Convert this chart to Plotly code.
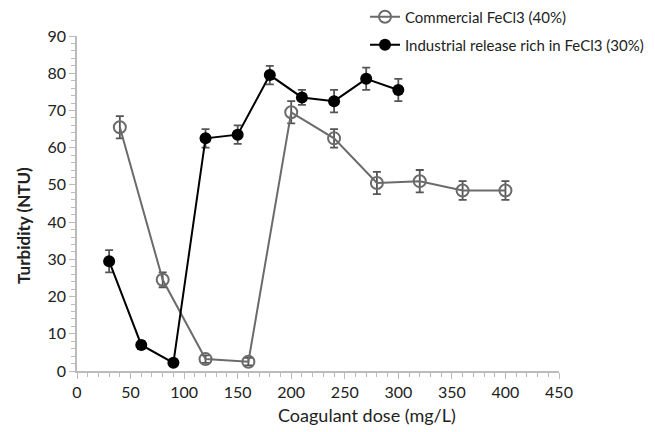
import plotly.graph_objects as go

com_x = [40, 80, 120, 160, 200, 240, 280, 320, 360, 400]
com_y = [65.5, 24.5, 3.2, 2.5, 69.5, 62.5, 50.5, 51, 48.5, 48.5]
com_err = [3, 2, 1, 1, 3, 2.5, 3, 3, 2.5, 2.5]

ind_x = [30, 60, 90, 120, 150, 180, 210, 240, 270, 300]
ind_y = [29.5, 7, 2.2, 62.5, 63.5, 79.5, 73.5, 72.5, 78.5, 75.5]
ind_err = [3, 1, 0.5, 2.5, 2.5, 2.5, 2, 3, 3, 3]

x_ticks = [0, 50, 100, 150, 200, 250, 300, 350, 400, 450]
y_ticks = [0, 10, 20, 30, 40, 50, 60, 70, 80, 90]

font = "Lato, Open Sans, sans-serif"
W, H = 655, 432
OFF = 8  # page body margin offset
L, T = 77 - OFF, 36 - OFF
R = W - (559 - OFF)
B = H - (371 - OFF)

fig = go.Figure()
fig.add_trace(go.Scatter(
    x=com_x, y=com_y, mode="lines+markers", name="Commercial FeCl3 (40%)",
    line=dict(color="#6b6b6b", width=2),
    marker=dict(symbol="circle-open", size=12, color="#6b6b6b", line=dict(width=2)),
    error_y=dict(type="data", array=com_err, color="#555555", thickness=1.8, width=4),
    legend="legend",
))
fig.add_trace(go.Scatter(
    x=ind_x, y=ind_y, mode="lines+markers", name="Industrial release rich in FeCl3 (30%)",
    line=dict(color="#000000", width=2),
    marker=dict(symbol="circle", size=12, color="#000000"),
    error_y=dict(type="data", array=ind_err, color="#555555", thickness=1.8, width=4),
    legend="legend2",
))

axis_common = dict(showgrid=False, zeroline=False, showline=True, linecolor="#bbbbbb",
                   linewidth=1.5, ticks="outside", tickcolor="#bbbbbb", ticklen=6,
                   tickfont=dict(size=16, color="#222", family=font))
fig.update_xaxes(range=[0, 450], tickvals=x_ticks, **axis_common,
                 minor=dict(ticks="outside", dtick=10, ticklen=4, tickcolor="#bbbbbb"))
fig.update_yaxes(range=[0, 90], tickvals=y_ticks, **axis_common,
                 minor=dict(ticks="outside", dtick=2, ticklen=4, tickcolor="#bbbbbb"))

def px_x(p):
    return (p - OFF - L) / (W - L - R)

def px_y(p):
    return (H - B - (p - OFF)) / (H - T - B)

leg = dict(font=dict(size=15, color="#222", family=font), bgcolor="rgba(0,0,0,0)",
           xanchor="left", yanchor="middle", x=px_x(365))
fig.update_layout(
    width=W, height=H,
    margin=dict(l=L, r=R, t=T, b=B, autoexpand=False),
    plot_bgcolor="white", paper_bgcolor="white",
    showlegend=True,
    legend=dict(y=px_y(17), **leg),
    legend2=dict(y=px_y(45), **leg),
    annotations=[
        dict(text="Coagulant dose (mg/L)", xref="paper", yref="paper", x=px_x(367), y=px_y(415),
             showarrow=False, xanchor="center", yanchor="middle",
             font=dict(size=18, color="#222", family=font)),
        dict(text="<b>Turbidity (NTU)</b>", xref="paper", yref="paper", x=px_x(23), y=px_y(226),
             showarrow=False, xanchor="center", yanchor="middle", textangle=-90,
             font=dict(size=17, color="#222", family=font)),
    ],
)
fig.write_html("out.html")
